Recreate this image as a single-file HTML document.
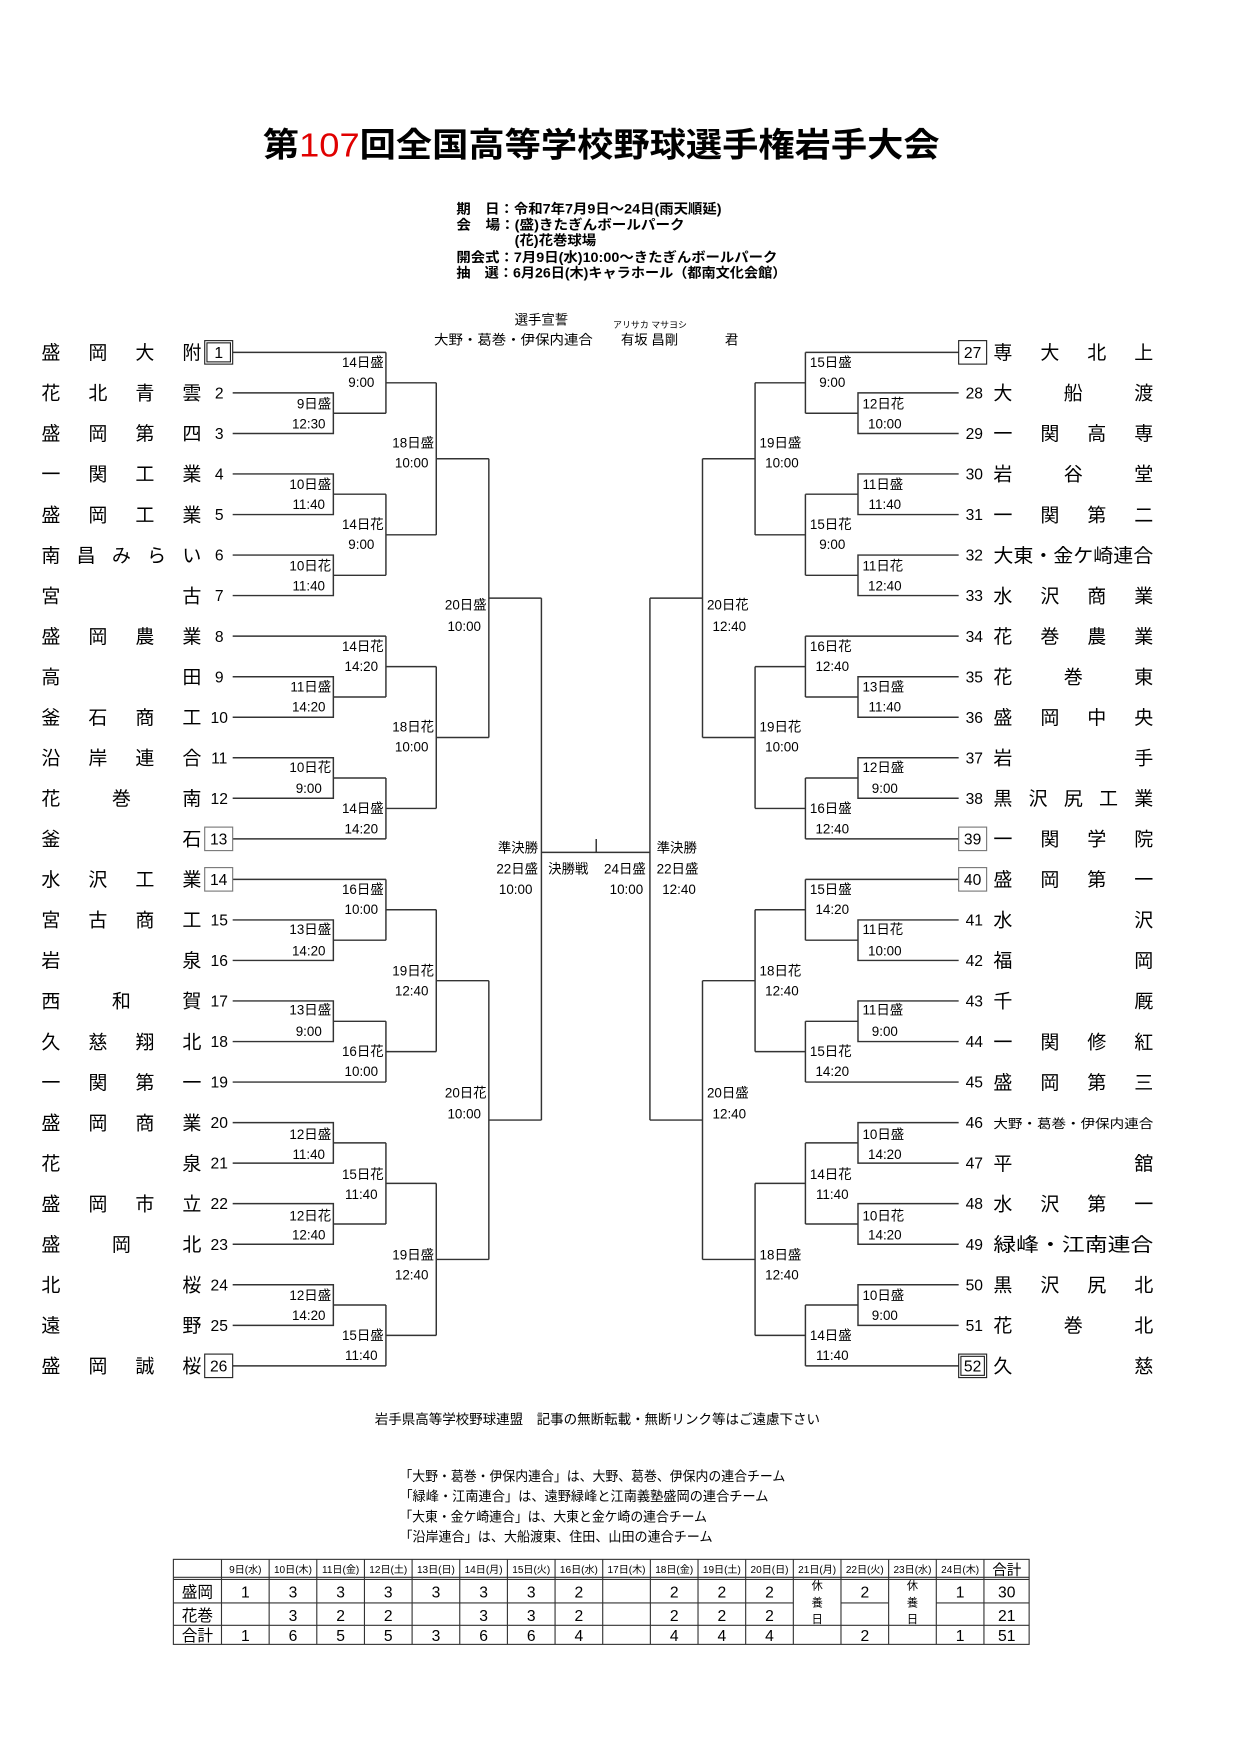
<!DOCTYPE html>
<html><head><meta charset="utf-8"><style>
html,body{margin:0;padding:0;background:#fff;}
svg{display:block;}
text{font-family:"Liberation Sans","Noto Sans CJK JP",sans-serif;fill:#000;}
.nm{font-family:"Liberation Serif","Noto Serif CJK SC",serif;font-size:17px;}
.lb{font-size:12px;}
.n{font-size:14px;font-family:"Liberation Serif","Noto Serif CJK SC",serif;}
.th{font-size:9px;}
.td{font-size:14px;font-family:"Liberation Serif","Noto Serif CJK SC",serif;}
</style></head><body>
<svg width="1240" height="1754" viewBox="0 0 1108.5 1568" xmlns="http://www.w3.org/2000/svg">
<rect width="1108.5" height="1568" fill="#fff"/>
<!-- title -->
<text x="235" y="140" font-size="30" font-weight="bold" textLength="605" lengthAdjust="spacingAndGlyphs">第<tspan fill="#e00000" font-weight="normal">107</tspan>回全国高等学校野球選手権岩手大会</text>
<g font-size="12" font-weight="bold">
<text x="408" y="191" textLength="237" lengthAdjust="spacingAndGlyphs">期　日：令和7年7月9日～24日(雨天順延)</text>
<text x="408" y="205" textLength="204" lengthAdjust="spacingAndGlyphs">会　場：(盛)きたぎんボールパーク</text>
<text x="460" y="219" textLength="73" lengthAdjust="spacingAndGlyphs">(花)花巻球場</text>
<text x="408" y="234" textLength="287" lengthAdjust="spacingAndGlyphs">開会式：7月9日(水)10:00～きたぎんボールパーク</text>
<text x="408" y="248" textLength="295" lengthAdjust="spacingAndGlyphs">抽　選：6月26日(木)キャラホール（都南文化会館）</text>
</g>
<text x="460" y="290" font-size="12">選手宣誓</text>
<text x="388" y="308" font-size="12" textLength="142" lengthAdjust="spacingAndGlyphs">大野・葛巻・伊保内連合</text>
<text x="548" y="293" font-size="8">アリサカ マサヨシ</text>
<text x="555" y="308" font-size="12">有坂 昌剛</text>
<text x="648" y="308" font-size="12">君</text>

<!-- bracket lines -->
<g fill="none" stroke="#333" stroke-width="1.3">
<path id="br" d="M208 351.2H298V387.5H208M298 369.4H345M208 423.7H298V460H208M298 441.8H345M208 496.2H298V532.4H208M298 514.3H345M208 605H298V641.2H208M298 623.1H345M208 677.4H298V713.6H208M298 695.5H345M208 822.4H298V858.6H208M298 840.5H345M208 894.8H298V931.1H208M298 913H345M208 1003.6H298V1039.8H208M298 1021.7H345M208 1076H298V1112.3H208M298 1094.2H345M208 1148.5H298V1184.8H208M298 1166.6H345M208 315H345M208 568.7H345M208 749.9H345M208 786.1H345M208 967.3H345M208 1221H345M345 315V369.4M345 342.2H390M345 441.8V514.3M345 478.1H390M345 568.7V623.1M345 595.9H390M345 695.5V749.9M345 722.7H390M345 786.1V840.5M345 813.3H390M345 913V967.3M345 940.1H390M345 1021.7V1094.2M345 1057.9H390M345 1166.6V1221M345 1193.8H390M390 342.2V478.1M390 410.1H437M390 595.9V722.7M390 659.3H437M390 813.3V940.1M390 876.7H437M390 1057.9V1193.8M390 1125.9H437M437 410.1V659.3M437 534.7H484M437 876.7V1125.9M437 1001.3H484M484 534.7V1001.3"/>
<use href="#br" transform="translate(1065,0) scale(-1,1)"/>
<path d="M484 762H581M533 750V762"/>
</g>
<!-- boxes -->
<g fill="none" stroke="#222" stroke-width="1">
<rect x="183" y="304.5" width="25" height="21"/><rect x="185" y="306.5" width="21" height="17"/>
<rect x="183" y="739.4" width="25" height="21" stroke="#777"/>
<rect x="183" y="775.6" width="25" height="21" stroke="#777"/>
<rect x="183" y="1210.5" width="25" height="21"/>
<rect x="857" y="304.5" width="25" height="21"/>
<rect x="857" y="739.4" width="25" height="21" stroke="#777"/>
<rect x="857" y="775.6" width="25" height="21" stroke="#777"/>
<rect x="857" y="1210.5" width="25" height="21"/><rect x="859" y="1212.5" width="21" height="17"/>
</g>

<!-- left names -->
<g class="nm">
<text x="37" y="321" textLength="143" lengthAdjust="spacing">盛岡大附</text>
<text x="37" y="357.2" textLength="143" lengthAdjust="spacing">花北青雲</text>
<text x="37" y="393.5" textLength="143" lengthAdjust="spacing">盛岡第四</text>
<text x="37" y="429.7" textLength="143" lengthAdjust="spacing">一関工業</text>
<text x="37" y="466" textLength="143" lengthAdjust="spacing">盛岡工業</text>
<text x="37" y="502.2" textLength="143" lengthAdjust="spacing">南昌みらい</text>
<text x="37" y="538.4" textLength="143" lengthAdjust="spacing">宮古</text>
<text x="37" y="574.7" textLength="143" lengthAdjust="spacing">盛岡農業</text>
<text x="37" y="611" textLength="143" lengthAdjust="spacing">高田</text>
<text x="37" y="647.2" textLength="143" lengthAdjust="spacing">釜石商工</text>
<text x="37" y="683.4" textLength="143" lengthAdjust="spacing">沿岸連合</text>
<text x="37" y="719.6" textLength="143" lengthAdjust="spacing">花巻南</text>
<text x="37" y="755.9" textLength="143" lengthAdjust="spacing">釜石</text>
<text x="37" y="792.1" textLength="143" lengthAdjust="spacing">水沢工業</text>
<text x="37" y="828.4" textLength="143" lengthAdjust="spacing">宮古商工</text>
<text x="37" y="864.6" textLength="143" lengthAdjust="spacing">岩泉</text>
<text x="37" y="900.8" textLength="143" lengthAdjust="spacing">西和賀</text>
<text x="37" y="937.1" textLength="143" lengthAdjust="spacing">久慈翔北</text>
<text x="37" y="973.3" textLength="143" lengthAdjust="spacing">一関第一</text>
<text x="37" y="1009.6" textLength="143" lengthAdjust="spacing">盛岡商業</text>
<text x="37" y="1045.8" textLength="143" lengthAdjust="spacing">花泉</text>
<text x="37" y="1082" textLength="143" lengthAdjust="spacing">盛岡市立</text>
<text x="37" y="1118.3" textLength="143" lengthAdjust="spacing">盛岡北</text>
<text x="37" y="1154.5" textLength="143" lengthAdjust="spacing">北桜</text>
<text x="37" y="1190.8" textLength="143" lengthAdjust="spacing">遠野</text>
<text x="37" y="1227" textLength="143" lengthAdjust="spacing">盛岡誠桜</text>
</g>
<!-- right names -->
<g class="nm">
<text x="888" y="321" textLength="143" lengthAdjust="spacing">専大北上</text>
<text x="888" y="357.2" textLength="143" lengthAdjust="spacing">大船渡</text>
<text x="888" y="393.5" textLength="143" lengthAdjust="spacing">一関高専</text>
<text x="888" y="429.7" textLength="143" lengthAdjust="spacing">岩谷堂</text>
<text x="888" y="466" textLength="143" lengthAdjust="spacing">一関第二</text>
<text x="888" y="502.2" textLength="143" lengthAdjust="spacingAndGlyphs">大東・金ケ崎連合</text>
<text x="888" y="538.4" textLength="143" lengthAdjust="spacing">水沢商業</text>
<text x="888" y="574.7" textLength="143" lengthAdjust="spacing">花巻農業</text>
<text x="888" y="611" textLength="143" lengthAdjust="spacing">花巻東</text>
<text x="888" y="647.2" textLength="143" lengthAdjust="spacing">盛岡中央</text>
<text x="888" y="683.4" textLength="143" lengthAdjust="spacing">岩手</text>
<text x="888" y="719.6" textLength="143" lengthAdjust="spacing">黒沢尻工業</text>
<text x="888" y="755.9" textLength="143" lengthAdjust="spacing">一関学院</text>
<text x="888" y="792.1" textLength="143" lengthAdjust="spacing">盛岡第一</text>
<text x="888" y="828.4" textLength="143" lengthAdjust="spacing">水沢</text>
<text x="888" y="864.6" textLength="143" lengthAdjust="spacing">福岡</text>
<text x="888" y="900.8" textLength="143" lengthAdjust="spacing">千厩</text>
<text x="888" y="937.1" textLength="143" lengthAdjust="spacing">一関修紅</text>
<text x="888" y="973.3" textLength="143" lengthAdjust="spacing">盛岡第三</text>
<text x="888" y="1008.6" textLength="143" lengthAdjust="spacingAndGlyphs" font-size="11">大野・葛巻・伊保内連合</text>
<text x="888" y="1045.8" textLength="143" lengthAdjust="spacing">平舘</text>
<text x="888" y="1082" textLength="143" lengthAdjust="spacing">水沢第一</text>
<text x="888" y="1118.3" textLength="143" lengthAdjust="spacingAndGlyphs">緑峰・江南連合</text>
<text x="888" y="1154.5" textLength="143" lengthAdjust="spacing">黒沢尻北</text>
<text x="888" y="1190.8" textLength="143" lengthAdjust="spacing">花巻北</text>
<text x="888" y="1227" textLength="143" lengthAdjust="spacing">久慈</text>
</g>
<!-- numbers -->
<g class="n" text-anchor="middle">
<text x="195.5" y="320">1</text><text x="196" y="356.2">2</text><text x="196" y="392.5">3</text><text x="196" y="428.7">4</text><text x="196" y="465">5</text><text x="196" y="501.2">6</text><text x="196" y="537.4">7</text><text x="196" y="573.7">8</text><text x="196" y="610">9</text><text x="196" y="646.2">10</text><text x="196" y="682.4">11</text><text x="196" y="718.6">12</text><text x="195.5" y="754.9">13</text><text x="195.5" y="791.1">14</text><text x="196" y="827.4">15</text><text x="196" y="863.6">16</text><text x="196" y="899.8">17</text><text x="196" y="936.1">18</text><text x="196" y="972.3">19</text><text x="196" y="1008.6">20</text><text x="196" y="1044.8">21</text><text x="196" y="1081">22</text><text x="196" y="1117.3">23</text><text x="196" y="1153.5">24</text><text x="196" y="1189.8">25</text><text x="195.5" y="1226">26</text>
<text x="869.5" y="320">27</text><text x="871" y="356.2">28</text><text x="871" y="392.5">29</text><text x="871" y="428.7">30</text><text x="871" y="465">31</text><text x="871" y="501.2">32</text><text x="871" y="537.4">33</text><text x="871" y="573.7">34</text><text x="871" y="610">35</text><text x="871" y="646.2">36</text><text x="871" y="682.4">37</text><text x="871" y="718.6">38</text><text x="869.5" y="754.9">39</text><text x="869.5" y="791.1">40</text><text x="871" y="827.4">41</text><text x="871" y="863.6">42</text><text x="871" y="899.8">43</text><text x="871" y="936.1">44</text><text x="871" y="972.3">45</text><text x="871" y="1008.6">46</text><text x="871" y="1044.8">47</text><text x="871" y="1081">48</text><text x="871" y="1117.3">49</text><text x="871" y="1153.5">50</text><text x="871" y="1189.8">51</text><text x="869.5" y="1226">52</text>
</g>

<!-- left labels -->
<g class="lb">
<g text-anchor="end">
<text x="296" y="365">9日盛</text><text x="296" y="437">10日盛</text><text x="296" y="510">10日花</text><text x="296" y="618">11日盛</text><text x="296" y="690">10日花</text><text x="296" y="835">13日盛</text><text x="296" y="907">13日盛</text><text x="296" y="1018">12日盛</text><text x="296" y="1091">12日花</text><text x="296" y="1162">12日盛</text>
<text x="343" y="328">14日盛</text><text x="343" y="473">14日花</text><text x="343" y="582">14日花</text><text x="343" y="727">14日盛</text><text x="343" y="799">16日盛</text><text x="343" y="944">16日花</text><text x="343" y="1054">15日花</text><text x="343" y="1198">15日盛</text>
<text x="388" y="400">18日盛</text><text x="388" y="654">18日花</text><text x="388" y="872">19日花</text><text x="388" y="1126">19日盛</text>
<text x="435" y="545">20日盛</text><text x="435" y="981">20日花</text>
<text x="481" y="762">準決勝</text><text x="481" y="781">22日盛</text>
</g>
<g text-anchor="middle">
<text x="276" y="383">12:30</text><text x="276" y="455">11:40</text><text x="276" y="528">11:40</text><text x="276" y="636">14:20</text><text x="276" y="709">9:00</text><text x="276" y="854">14:20</text><text x="276" y="926">9:00</text><text x="276" y="1036">11:40</text><text x="276" y="1108">12:40</text><text x="276" y="1180">14:20</text>
<text x="323" y="346">9:00</text><text x="323" y="491">9:00</text><text x="323" y="600">14:20</text><text x="323" y="745">14:20</text><text x="323" y="817">10:00</text><text x="323" y="962">10:00</text><text x="323" y="1072">11:40</text><text x="323" y="1216">11:40</text>
<text x="368" y="418">10:00</text><text x="368" y="672">10:00</text><text x="368" y="890">12:40</text><text x="368" y="1144">12:40</text>
<text x="415" y="564">10:00</text><text x="415" y="1000">10:00</text>
<text x="461" y="799">10:00</text>
</g>
<text x="490" y="781">決勝戦</text>
<text x="540" y="781">24日盛</text>
<text x="560" y="799" text-anchor="middle">10:00</text>
</g>
<!-- right labels -->
<g class="lb">
<g>
<text x="771" y="365">12日花</text><text x="771" y="437">11日盛</text><text x="771" y="510">11日花</text><text x="771" y="618">13日盛</text><text x="771" y="690">12日盛</text><text x="771" y="835">11日花</text><text x="771" y="907">11日盛</text><text x="771" y="1018">10日盛</text><text x="771" y="1091">10日花</text><text x="771" y="1162">10日盛</text>
<text x="724" y="328">15日盛</text><text x="724" y="473">15日花</text><text x="724" y="582">16日花</text><text x="724" y="727">16日盛</text><text x="724" y="799">15日盛</text><text x="724" y="944">15日花</text><text x="724" y="1054">14日花</text><text x="724" y="1198">14日盛</text>
<text x="679" y="400">19日盛</text><text x="679" y="654">19日花</text><text x="679" y="872">18日花</text><text x="679" y="1126">18日盛</text>
<text x="632" y="545">20日花</text><text x="632" y="981">20日盛</text>
<text x="587" y="762">準決勝</text><text x="587" y="781">22日盛</text>
</g>
<g text-anchor="middle">
<text x="791" y="383">10:00</text><text x="791" y="455">11:40</text><text x="791" y="528">12:40</text><text x="791" y="636">11:40</text><text x="791" y="709">9:00</text><text x="791" y="854">10:00</text><text x="791" y="926">9:00</text><text x="791" y="1036">14:20</text><text x="791" y="1108">14:20</text><text x="791" y="1180">9:00</text>
<text x="744" y="346">9:00</text><text x="744" y="491">9:00</text><text x="744" y="600">12:40</text><text x="744" y="745">12:40</text><text x="744" y="817">14:20</text><text x="744" y="962">14:20</text><text x="744" y="1072">11:40</text><text x="744" y="1216">11:40</text>
<text x="699" y="418">10:00</text><text x="699" y="672">10:00</text><text x="699" y="890">12:40</text><text x="699" y="1144">12:40</text>
<text x="652" y="564">12:40</text><text x="652" y="1000">12:40</text>
<text x="607" y="799">12:40</text>
</g>
</g>

<!-- footer -->
<text x="335" y="1273" font-size="12" textLength="398" lengthAdjust="spacingAndGlyphs">岩手県高等学校野球連盟　記事の無断転載・無断リンク等はご遠慮下さい</text>
<g font-size="12">
<text x="357" y="1324" textLength="345" lengthAdjust="spacingAndGlyphs">「大野・葛巻・伊保内連合」は、大野、葛巻、伊保内の連合チーム</text>
<text x="357" y="1342" textLength="330" lengthAdjust="spacingAndGlyphs">「緑峰・江南連合」は、遠野緑峰と江南義塾盛岡の連合チーム</text>
<text x="357" y="1360" textLength="275" lengthAdjust="spacingAndGlyphs">「大東・金ケ崎連合」は、大東と金ケ崎の連合チーム</text>
<text x="357" y="1378" textLength="280" lengthAdjust="spacingAndGlyphs">「沿岸連合」は、大船渡東、住田、山田の連合チーム</text>
</g>

<!-- table -->
<g fill="none" stroke="#333" stroke-width="1">
<rect x="155" y="1394" width="765" height="76"/>
<path d="M155 1410H920M155 1412H920M155 1453H920M155 1433H709.2M751.8 1433H794.4M837 1433H920"/>
<path d="M198 1394V1470M240.6 1394V1470M283.2 1394V1470M325.8 1394V1470M368.4 1394V1470M411 1394V1470M453.6 1394V1470M496.2 1394V1470M538.8 1394V1470M581.4 1394V1470M624 1394V1470M666.6 1394V1470M709.2 1394V1470M751.8 1394V1470M794.4 1394V1470M837 1394V1470M879.6 1394V1470"/>
</g>
<g class="th" text-anchor="middle">
<text x="219.3" y="1406">9日(水)</text><text x="261.9" y="1406">10日(木)</text><text x="304.5" y="1406">11日(金)</text><text x="347.1" y="1406">12日(土)</text><text x="389.7" y="1406">13日(日)</text><text x="432.3" y="1406">14日(月)</text><text x="474.9" y="1406">15日(火)</text><text x="517.5" y="1406">16日(水)</text><text x="560.1" y="1406">17日(木)</text><text x="602.7" y="1406">18日(金)</text><text x="645.3" y="1406">19日(土)</text><text x="687.9" y="1406">20日(日)</text><text x="730.5" y="1406">21日(月)</text><text x="773.1" y="1406">22日(火)</text><text x="815.7" y="1406">23日(水)</text><text x="858.3" y="1406">24日(木)</text>
<text x="900" y="1408" font-size="13">合計</text>
</g>
<g class="td" text-anchor="middle">
<text x="176.5" y="1428">盛岡</text><text x="176.5" y="1449">花巻</text><text x="176.5" y="1467">合計</text>
<text x="219.3" y="1428">1</text><text x="261.9" y="1428">3</text><text x="304.5" y="1428">3</text><text x="347.1" y="1428">3</text><text x="389.7" y="1428">3</text><text x="432.3" y="1428">3</text><text x="474.9" y="1428">3</text><text x="517.5" y="1428">2</text><text x="602.7" y="1428">2</text><text x="645.3" y="1428">2</text><text x="687.9" y="1428">2</text><text x="773.1" y="1428">2</text><text x="858.3" y="1428">1</text><text x="900" y="1428">30</text>
<text x="261.9" y="1449">3</text><text x="304.5" y="1449">2</text><text x="347.1" y="1449">2</text><text x="432.3" y="1449">3</text><text x="474.9" y="1449">3</text><text x="517.5" y="1449">2</text><text x="602.7" y="1449">2</text><text x="645.3" y="1449">2</text><text x="687.9" y="1449">2</text><text x="900" y="1449">21</text>
<text x="219.3" y="1467">1</text><text x="261.9" y="1467">6</text><text x="304.5" y="1467">5</text><text x="347.1" y="1467">5</text><text x="389.7" y="1467">3</text><text x="432.3" y="1467">6</text><text x="474.9" y="1467">6</text><text x="517.5" y="1467">4</text><text x="602.7" y="1467">4</text><text x="645.3" y="1467">4</text><text x="687.9" y="1467">4</text><text x="773.1" y="1467">2</text><text x="858.3" y="1467">1</text><text x="900" y="1467">51</text>
</g>
<g font-size="10" text-anchor="middle">
<text x="730.5" y="1421">休</text><text x="730.5" y="1436">養</text><text x="730.5" y="1451">日</text>
<text x="815.7" y="1421">休</text><text x="815.7" y="1436">養</text><text x="815.7" y="1451">日</text>
</g>
</svg>
</body></html>
